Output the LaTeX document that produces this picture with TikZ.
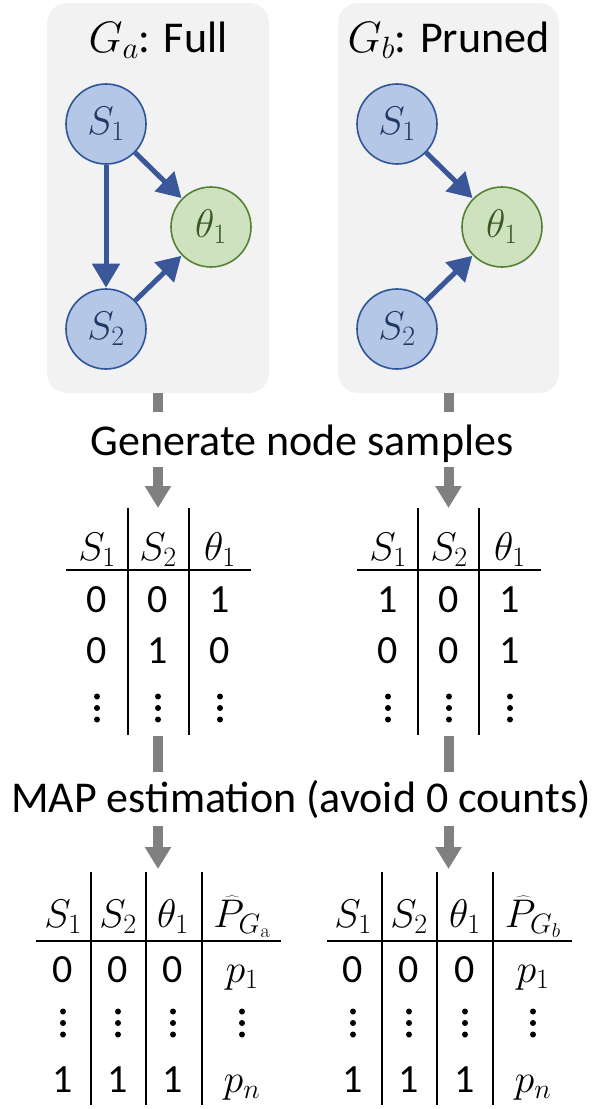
\RequirePackage{fix-cm}
\documentclass[tikz,border=0pt]{standalone}
\usepackage[no-math]{fontspec}
\setmainfont{Carlito}
\usetikzlibrary{arrows.meta}
\definecolor{boxfill}{HTML}{F2F2F2}
\definecolor{sfill}{HTML}{B4C7E7}
\definecolor{sdraw}{HTML}{2F5597}
\definecolor{stext}{HTML}{1F3864}
\definecolor{tfill}{HTML}{CFE2BF}
\definecolor{tdraw}{HTML}{548235}
\definecolor{ttext}{HTML}{385723}
\definecolor{ablue}{HTML}{3A579A}
\definecolor{ggray}{HTML}{808080}
\begin{document}
\begin{tikzpicture}[x=1pt,y=-1pt,
  gbox/.style={fill=boxfill, rounded corners=20pt, inner sep=0pt},
  snode/.style={circle, draw=sdraw, fill=sfill, line width=1.6pt, minimum size=80pt, inner sep=0pt, text=stext, font=\fontsize{40}{48}\selectfont},
  tnode/.style={circle, draw=tdraw, fill=tfill, line width=1.6pt, minimum size=80pt, inner sep=0pt, text=ttext, font=\fontsize{40}{48}\selectfont},
  barrow/.style={draw=ablue, line width=5pt, -{Triangle[width=27pt,length=24pt]}, shorten >=0.5pt},
  gline/.style={draw=ggray, line width=10pt},
  garrow/.style={gline, -{Triangle[width=25pt,length=22pt]}},
  lbl/.style={font=\fontsize{44}{53}\selectfont, anchor=base, inner sep=0pt},
  cell/.style={font=\fontsize{40}{48}\selectfont, anchor=base, inner sep=0pt},
  tline/.style={line width=2pt},
  vdts/.pic={\fill (0,-11.5) circle[radius=3pt] (0,0) circle[radius=3pt] (0,11.5) circle[radius=3pt];}
]
\useasboundingbox (0,0) rectangle (602,1109);

% ---------- graph boxes ----------
\node (boxa) [gbox, minimum width=222pt, minimum height=390pt] at (158,198) {};
\node (boxb) [gbox, minimum width=221pt, minimum height=390pt] at (448.5,198) {};
\node (tia) [lbl] at (158,52) {$G_a$: Full};
\node (tib) [lbl] at (448.5,52) {$G_b$: Pruned};

\node (s1a) [snode] at (106,124) {$S_1$};
\node (s2a) [snode] at (106,329) {$S_2$};
\node (t1a) [tnode] at (211,227) {$\theta_1$};
\draw[barrow] (s1a) -- (s2a);
\draw[barrow] (s1a) -- (t1a);
\draw[barrow] (s2a) -- (t1a);

\node (s1b) [snode] at (397,124) {$S_1$};
\node (s2b) [snode] at (397,329) {$S_2$};
\node (t1b) [tnode] at (502,227) {$\theta_1$};
\draw[barrow] (s1b) -- (t1b);
\draw[barrow] (s2b) -- (t1b);

% ---------- generate ----------
\node (gen) [lbl] at (302,455) {Generate node samples};
\coordinate (ga1) at (158,412);
\coordinate (ga2) at (158,467);
\coordinate (ga3) at (158,508);
\coordinate (gb1) at (448.5,412);
\coordinate (gb2) at (448.5,467);
\coordinate (gb3) at (448.5,508);
\draw[gline] (boxa.south) -- (ga1);
\draw[gline] (boxb.south) -- (gb1);
\draw[garrow] (ga2) -- (ga3);
\draw[garrow] (gb2) -- (gb3);

% ---------- table 1 ----------
\draw[tline] (128,508) -- (128,735) (189,508) -- (189,735) (66,570) -- (251,570);
\node (a11) [cell] at (97,560) {$S_1$};
\node (a12) [cell] at (158,560) {$S_2$};
\node (a13) [cell] at (220,560) {$\theta_1$};
\node (a21) [cell] at (97,612) {0};
\node (a22) [cell] at (158,612) {0};
\node (a23) [cell] at (220,612) {1};
\node (a31) [cell] at (97,663) {0};
\node (a32) [cell] at (158,663) {1};
\node (a33) [cell] at (220,663) {0};
\pic at (97,708) {vdts};
\pic at (158,708) {vdts};
\pic at (220,708) {vdts};

% ---------- table 2 ----------
\draw[tline] (418,508) -- (418,735) (479,508) -- (479,735) (357,570) -- (541,570);
\node (b11) [cell] at (388,560) {$S_1$};
\node (b12) [cell] at (449,560) {$S_2$};
\node (b13) [cell] at (510,560) {$\theta_1$};
\node (b21) [cell] at (388,612) {1};
\node (b22) [cell] at (449,612) {0};
\node (b23) [cell] at (510,612) {1};
\node (b31) [cell] at (388,663) {0};
\node (b32) [cell] at (449,663) {0};
\node (b33) [cell] at (510,663) {1};
\pic at (388,708) {vdts};
\pic at (449,708) {vdts};
\pic at (510,708) {vdts};

% ---------- MAP ----------
\node (map) [lbl] at (301,812) {MAP estimation (avoid 0 counts)};
\coordinate (ma0) at (158,736);
\coordinate (ma1) at (158,772);
\coordinate (ma2) at (158,826);
\coordinate (ma3) at (158,869);
\coordinate (mb0) at (448.5,736);
\coordinate (mb1) at (448.5,772);
\coordinate (mb2) at (448.5,826);
\coordinate (mb3) at (448.5,869);
\draw[gline] (ma0) -- (ma1);
\draw[gline] (mb0) -- (mb1);
\draw[garrow] (ma2) -- (ma3);
\draw[garrow] (mb2) -- (mb3);

% ---------- table 3 ----------
\draw[tline] (91,872) -- (91,1105) (146,872) -- (146,1105) (202,872) -- (202,1105) (36,941) -- (281,941);
\node (c11) [cell] at (63,927) {$S_1$};
\node (c12) [cell] at (118,927) {$S_2$};
\node (c13) [cell] at (173,927) {$\theta_1$};
\node (c14) [cell] at (242,927) {$\widehat{P}_{G_{\mathrm{a}}}$};
\node (c21) [cell] at (63,982) {0};
\node (c22) [cell] at (118,982) {0};
\node (c23) [cell] at (173,982) {0};
\node (c24) [cell] at (242,982) {$p_1$};
\pic at (63,1023) {vdts};
\pic at (118,1023) {vdts};
\pic at (173,1023) {vdts};
\pic at (242,1023) {vdts};
\node (c41) [cell] at (63,1092) {1};
\node (c42) [cell] at (118,1092) {1};
\node (c43) [cell] at (173,1092) {1};
\node (c44) [cell] at (242,1092) {$p_n$};

% ---------- table 4 ----------
\draw[tline] (382,872) -- (382,1105) (437,872) -- (437,1105) (493,872) -- (493,1105) (327,941) -- (572,941);
\node (d11) [cell] at (353,927) {$S_1$};
\node (d12) [cell] at (409,927) {$S_2$};
\node (d13) [cell] at (465,927) {$\theta_1$};
\node (d14) [cell] at (533,927) {$\widehat{P}_{G_b}$};
\node (d21) [cell] at (353,982) {0};
\node (d22) [cell] at (409,982) {0};
\node (d23) [cell] at (465,982) {0};
\node (d24) [cell] at (533,982) {$p_1$};
\pic at (353,1023) {vdts};
\pic at (409,1023) {vdts};
\pic at (465,1023) {vdts};
\pic at (533,1023) {vdts};
\node (d41) [cell] at (353,1092) {1};
\node (d42) [cell] at (409,1092) {1};
\node (d43) [cell] at (465,1092) {1};
\node (d44) [cell] at (533,1092) {$p_n$};
\end{tikzpicture}
\end{document}
